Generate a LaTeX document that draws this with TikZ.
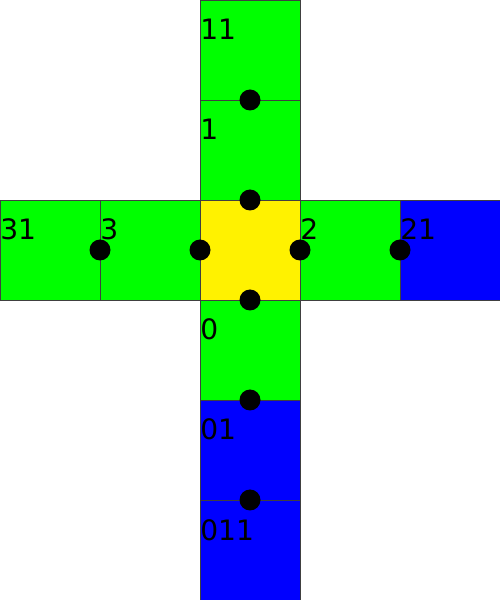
\documentclass[tikz,border=0pt]{standalone}
\usepackage{fontspec}
\newfontfamily\labfont{DejaVu Sans}
\usetikzlibrary{positioning}

\begin{document}
\begin{tikzpicture}[
  node distance=0pt,
  sq/.style={draw=black!75,line width=0.5pt,minimum size=2cm,inner sep=0pt,outer sep=0pt},
  lab/.style={anchor=base west,inner sep=0pt,yshift=-0.8cm,font=\labfont\fontsize{16pt}{18pt}\selectfont},
  dot/.style={circle,fill=black,minimum size=0.42cm,inner sep=0pt}]
\useasboundingbox (0,0) rectangle (10,12);
\node[sq,fill=yellow] at (5,7) (c) {};
\node[sq,fill=green,above=of c,label={[lab]north west:1}] (n1) {};
\node[sq,fill=green,above=of n1,label={[lab]north west:11}] (n11) {};
\node[sq,fill=green,left=of c,label={[lab]north west:3}] (n3) {};
\node[sq,fill=green,left=of n3,label={[lab]north west:31}] (n31) {};
\node[sq,fill=green,right=of c,label={[lab]north west:2}] (n2) {};
\node[sq,fill=blue,right=of n2,label={[lab]north west:21}] (n21) {};
\node[sq,fill=green,below=of c,label={[lab]north west:0}] (n0) {};
\node[sq,fill=blue,below=of n0,label={[lab]north west:01}] (n01) {};
\node[sq,fill=blue,below=of n01,label={[lab]north west:011}] (n011) {};
% dots on the shared edges
\node[dot] (d1) at (c.north) {};
\node[dot] (d11) at (n1.north) {};
\node[dot] (d3) at (c.west) {};
\node[dot] (d31) at (n3.west) {};
\node[dot] (d2) at (c.east) {};
\node[dot] (d21) at (n2.east) {};
\node[dot] (d0) at (c.south) {};
\node[dot] (d01) at (n0.south) {};
\node[dot] (d011) at (n01.south) {};
\end{tikzpicture}
\end{document}
